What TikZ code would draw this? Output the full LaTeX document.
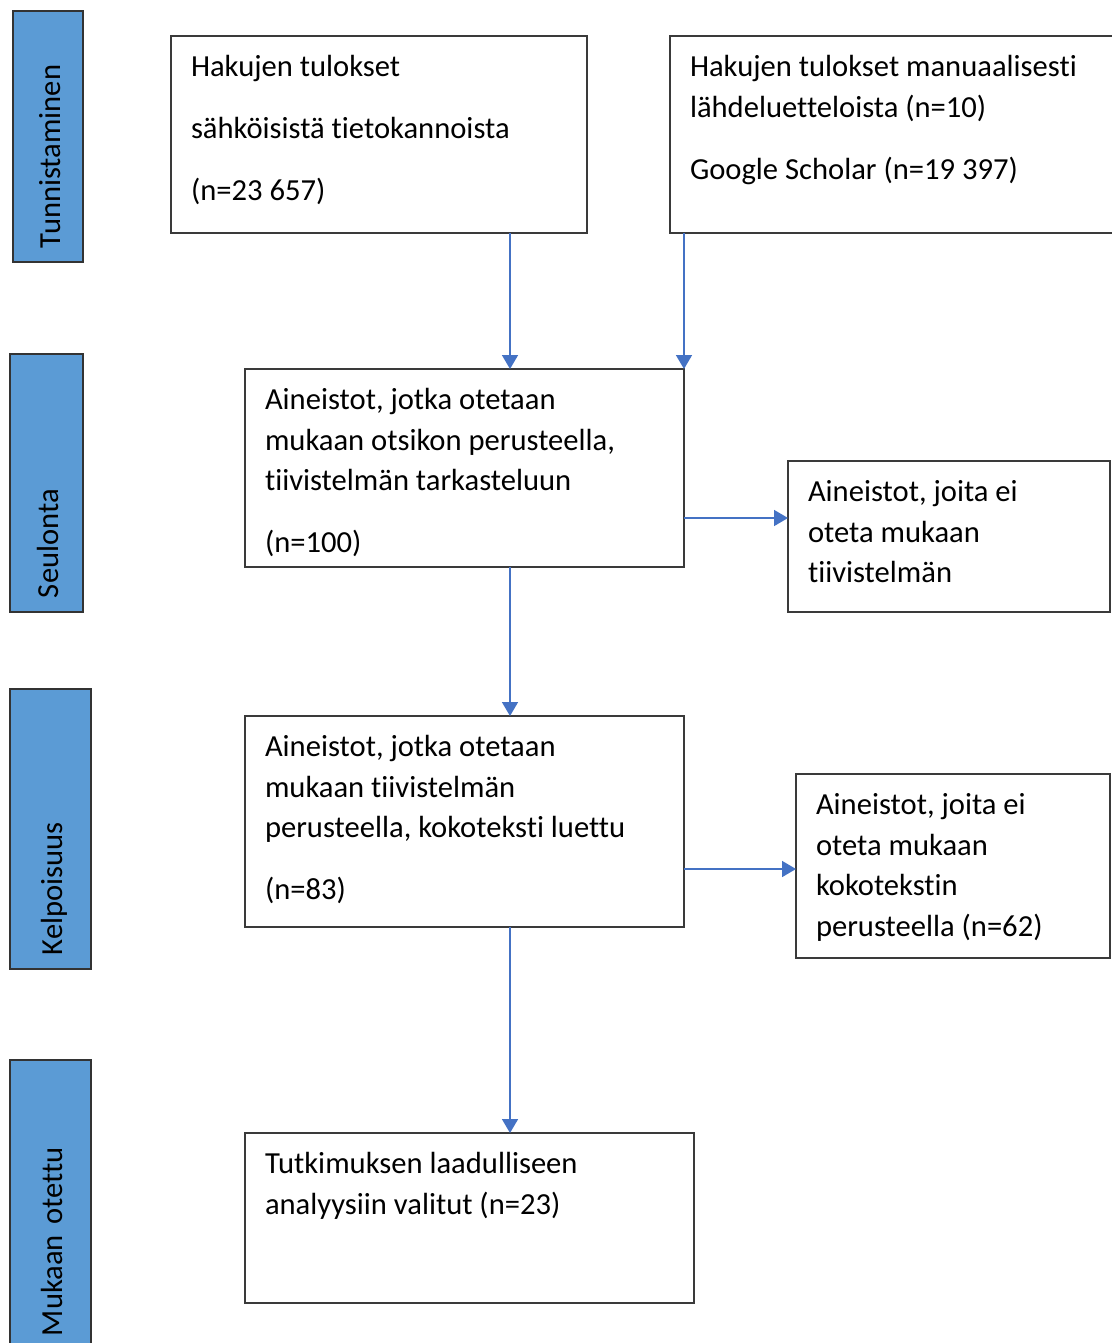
\documentclass[tikz,border=0pt]{standalone}
\usepackage{fontspec}
\setmainfont{Carlito}[Ligatures=NoCommon]
\usetikzlibrary{arrows.meta}

\definecolor{vaihe}{HTML}{5B9BD5}
\definecolor{nuolisin}{HTML}{4472C4}
\definecolor{reuna}{HTML}{3A3A3A}

% text in a box: width, height, content (top aligned)
\newcommand\laatikko[3]{\begin{minipage}[t][#2][t]{#1}\raggedright\strut #3\end{minipage}}

\begin{document}
\begin{tikzpicture}[x=0.5pt,y=-0.5pt,
  font=\fontsize{15.3pt}{20.25pt}\selectfont,
  box/.style={draw=reuna,line width=1pt,anchor=north west,inner xsep=10pt,inner ysep=6.3pt,outer sep=0pt},
  bar/.style={draw=black!80,line width=0.9pt,fill=vaihe,rotate=90,align=left,inner xsep=7pt,inner ysep=0pt,text height=15pt,text depth=3pt},
  nuoli/.style={draw=nuolisin,line width=0.85pt,-{Triangle[width=8pt,length=7pt]}}]
\useasboundingbox (0,0) rectangle (1112,1343);
\def\gap{10.75pt}

% vaiheet
\node[bar,text width=111.5pt,minimum height=35pt] (vTunn) at (48,136.5) {Tunnistaminen};
\node[bar,text width=115pt,minimum height=36.5pt] (vSeul) at (46.5,483) {Seulonta};
\node[bar,text width=126pt,minimum height=40.5pt] (vKelp) at (50.5,829) {Kelpoisuus};
\node[bar,text width=131pt,minimum height=40.5pt] (vMuk) at (50.5,1205) {Mukaan otettu};

% laatikot
\node[box] (tietokannat) at (171,36) {\laatikko{188pt}{85.9pt}{Hakujen tulokset\\[\gap] sähköisistä tietokannoista\\[\gap] (n=23 657)}};
\node[box] (manuaali) at (670,36) {\laatikko{203pt}{85.9pt}{Hakujen tulokset manuaalisesti\\ lähdeluetteloista (n=10)\\[\gap] Google Scholar (n=19 397)}};
\node[box] (seulottu) at (245,369) {\laatikko{199.5pt}{86.4pt}{Aineistot, jotka otetaan\\ mukaan otsikon perusteella,\\ tiivistelmän tarkasteluun\\[\gap] (n=100)}};
\node[box] (poisSeul) at (788,461) {\laatikko{141pt}{62.9pt}{Aineistot, joita ei\\ oteta mukaan\\ tiivistelmän}};
\node[box] (kelpo) at (245,716) {\laatikko{199.5pt}{92.9pt}{Aineistot, jotka otetaan\\ mukaan tiivistelmän\\ perusteella, kokoteksti luettu\\[\gap] (n=83)}};
\node[box] (poisKelpo) at (796,774) {\laatikko{137pt}{79.4pt}{Aineistot, joita ei\\ oteta mukaan\\ kokotekstin\\ perusteella (n=62)}};
\node[box] (mukaan) at (245,1133) {\laatikko{204.5pt}{72.4pt}{Tutkimuksen laadulliseen\\ analyysiin valitut (n=23)}};

% nuolet
\coordinate (runko) at (510,0);
\coordinate (h1) at (0,518);
\coordinate (h2) at (0,869);
\draw[nuoli] (tietokannat.south -| runko) -- (seulottu.north -| runko);
\draw[nuoli] (manuaali.south -| seulottu.north east) -- (seulottu.north east);
\draw[nuoli] (seulottu.east |- h1) -- (poisSeul.west |- h1);
\draw[nuoli] (seulottu.south -| runko) -- (kelpo.north -| runko);
\draw[nuoli] (kelpo.east |- h2) -- (poisKelpo.west |- h2);
\draw[nuoli] (kelpo.south -| runko) -- (mukaan.north -| runko);
\end{tikzpicture}
\end{document}
